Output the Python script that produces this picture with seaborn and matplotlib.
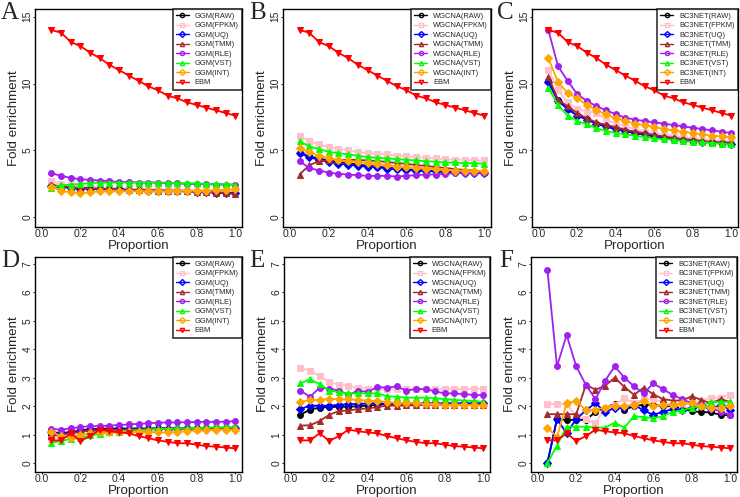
import numpy as np
import pandas as pd
import matplotlib
matplotlib.use("Agg")
import matplotlib.pyplot as plt
from matplotlib.lines import Line2D
import seaborn as sns

proportion = [0.05, 0.10, 0.15, 0.20, 0.25, 0.30, 0.35, 0.40, 0.45, 0.50,
              0.55, 0.60, 0.65, 0.70, 0.75, 0.80, 0.85, 0.90, 0.95, 1.00]
methods = ["RAW", "FPKM", "UQ", "TMM", "RLE", "VST", "INT"]

ebm_top = [14.0, 13.8, 13.1, 12.8, 12.3, 11.9, 11.4, 11.0, 10.6, 10.2, 9.8, 9.5, 9.1, 8.9, 8.6, 8.4, 8.2, 8.0, 7.8, 7.6]
ebm_bottom = [0.8, 0.8, 1.05, 0.78, 0.95, 1.18, 1.12, 1.08, 1.05, 0.95, 0.88, 0.8, 0.75, 0.7, 0.7, 0.65, 0.6, 0.58, 0.55, 0.52]

# Panel A: GGM, top
a_raw = [2.4, 2.3, 2.25, 2.2, 2.2, 2.15, 2.15, 2.1, 2.1, 2.1, 2.05, 2.05, 2.0, 2.0, 2.0, 1.95, 1.9, 1.9, 1.85, 1.8]
a_fpkm = [2.7, 2.5, 2.4, 2.35, 2.3, 2.25, 2.2, 2.2, 2.15, 2.1, 2.1, 2.1, 2.05, 2.05, 2.0, 2.0, 2.0, 1.95, 1.95, 1.9]
a_uq = [2.35, 2.25, 2.2, 2.15, 2.15, 2.1, 2.1, 2.1, 2.05, 2.05, 2.0, 2.0, 2.0, 1.95, 1.95, 1.9, 1.9, 1.85, 1.85, 1.8]
a_tmm = [2.45, 2.3, 2.25, 2.2, 2.15, 2.15, 2.1, 2.1, 2.05, 2.05, 2.05, 2.0, 2.0, 2.0, 1.95, 1.9, 1.9, 1.85, 1.8, 1.75]
a_rle = [3.3, 3.1, 2.95, 2.85, 2.8, 2.75, 2.7, 2.65, 2.65, 2.6, 2.6, 2.6, 2.55, 2.55, 2.5, 2.5, 2.5, 2.45, 2.45, 2.45]
a_vst = [2.2, 2.4, 2.45, 2.5, 2.55, 2.6, 2.6, 2.6, 2.6, 2.6, 2.6, 2.6, 2.6, 2.55, 2.55, 2.55, 2.5, 2.5, 2.5, 2.4]
a_int = [2.3, 1.95, 1.9, 1.8, 1.9, 1.95, 1.95, 1.95, 1.95, 1.95, 1.95, 1.95, 1.95, 2.0, 2.0, 2.0, 2.0, 2.05, 2.05, 2.1]

# Panel B: WGCNA, top
b_raw = [4.8, 4.55, 4.4, 4.25, 4.15, 4.05, 3.95, 3.85, 3.8, 3.7, 3.65, 3.6, 3.55, 3.5, 3.45, 3.4, 3.4, 3.35, 3.35, 3.3]
b_fpkm = [6.1, 5.7, 5.45, 5.25, 5.1, 5.0, 4.9, 4.8, 4.75, 4.7, 4.6, 4.55, 4.5, 4.45, 4.4, 4.35, 4.3, 4.3, 4.25, 4.25]
b_uq = [4.8, 4.5, 4.3, 4.15, 4.0, 3.95, 3.85, 3.8, 3.75, 3.65, 3.6, 3.55, 3.5, 3.45, 3.45, 3.4, 3.4, 3.35, 3.35, 3.3]
b_tmm = [3.2, 3.9, 4.2, 4.25, 4.3, 4.3, 4.3, 4.25, 4.2, 4.15, 4.05, 4.0, 3.9, 3.85, 3.75, 3.7, 3.6, 3.55, 3.5, 3.4]
b_rle = [4.2, 3.7, 3.5, 3.35, 3.25, 3.2, 3.15, 3.1, 3.1, 3.1, 3.05, 3.1, 3.15, 3.2, 3.2, 3.25, 3.3, 3.3, 3.35, 3.35]
b_vst = [5.7, 5.3, 5.1, 4.9, 4.8, 4.7, 4.6, 4.5, 4.45, 4.4, 4.35, 4.3, 4.25, 4.2, 4.15, 4.1, 4.1, 4.05, 4.05, 4.0]
b_int = [5.2, 4.85, 4.6, 4.45, 4.3, 4.2, 4.15, 4.05, 4.0, 3.9, 3.8, 3.75, 3.7, 3.65, 3.6, 3.55, 3.5, 3.5, 3.5, 3.45]

# Panel C: BC3NET, top
c_raw = [10.2, 8.8, 8.1, 7.65, 7.35, 7.0, 6.8, 6.6, 6.45, 6.3, 6.2, 6.1, 6.0, 5.9, 5.8, 5.75, 5.7, 5.6, 5.55, 5.5]
c_fpkm = [11.0, 9.5, 8.6, 8.1, 7.9, 7.8, 7.3, 7.0, 6.8, 6.6, 6.4, 6.3, 6.2, 6.1, 6.0, 5.9, 5.8, 5.8, 5.7, 5.7]
c_uq = [10.1, 8.7, 8.1, 7.6, 7.3, 7.0, 6.8, 6.6, 6.45, 6.3, 6.2, 6.05, 5.95, 5.85, 5.8, 5.7, 5.65, 5.6, 5.55, 5.5]
c_tmm = [10.5, 8.8, 8.3, 7.8, 7.4, 7.1, 6.9, 6.75, 6.55, 6.4, 6.3, 6.15, 6.05, 5.95, 5.85, 5.8, 5.7, 5.65, 5.6, 5.6]
c_rle = [14.0, 11.3, 10.2, 9.2, 8.7, 8.3, 8.0, 7.7, 7.45, 7.3, 7.2, 7.1, 7.0, 6.9, 6.8, 6.7, 6.6, 6.5, 6.4, 6.3]
c_vst = [9.7, 8.4, 7.6, 7.2, 6.95, 6.65, 6.45, 6.3, 6.2, 6.1, 6.0, 5.9, 5.85, 5.8, 5.7, 5.65, 5.6, 5.55, 5.5, 5.45]
c_int = [11.9, 10.1, 9.3, 8.9, 8.4, 8.0, 7.7, 7.4, 7.2, 7.0, 6.9, 6.75, 6.6, 6.5, 6.4, 6.3, 6.2, 6.1, 6.05, 6.0]

# Panel D: GGM, bottom
d_raw = [1.0, 1.05, 1.08, 1.15, 1.2, 1.2, 1.22, 1.22, 1.22, 1.22, 1.22, 1.23, 1.23, 1.23, 1.23, 1.23, 1.23, 1.23, 1.24, 1.24]
d_fpkm = [0.85, 0.9, 0.95, 1.0, 1.05, 1.08, 1.1, 1.12, 1.15, 1.15, 1.18, 1.18, 1.2, 1.2, 1.2, 1.2, 1.22, 1.22, 1.22, 1.22]
d_uq = [1.1, 1.05, 1.1, 1.12, 1.15, 1.18, 1.2, 1.2, 1.2, 1.2, 1.2, 1.2, 1.2, 1.2, 1.22, 1.22, 1.22, 1.22, 1.22, 1.22]
d_tmm = [0.95, 1.0, 1.05, 1.1, 1.15, 1.15, 1.17, 1.17, 1.18, 1.18, 1.2, 1.2, 1.2, 1.22, 1.22, 1.22, 1.22, 1.24, 1.24, 1.25]
d_rle = [1.2, 1.18, 1.22, 1.27, 1.3, 1.3, 1.32, 1.34, 1.36, 1.38, 1.4, 1.42, 1.43, 1.43, 1.44, 1.45, 1.45, 1.45, 1.46, 1.47]
d_vst = [0.72, 0.78, 0.85, 0.88, 0.98, 1.02, 1.08, 1.1, 1.15, 1.15, 1.18, 1.2, 1.2, 1.22, 1.22, 1.24, 1.25, 1.26, 1.26, 1.27]
d_int = [1.1, 0.95, 0.9, 1.0, 1.05, 1.08, 1.08, 1.08, 1.08, 1.1, 1.1, 1.08, 1.08, 1.1, 1.12, 1.15, 1.15, 1.17, 1.18, 1.18]

# Panel E: WGCNA, bottom
e_raw = [1.7, 1.88, 1.95, 1.97, 1.98, 1.98, 2.0, 2.02, 2.05, 2.08, 2.08, 2.08, 2.08, 2.08, 2.08, 2.08, 2.08, 2.08, 2.08, 2.08]
e_fpkm = [3.35, 3.25, 3.05, 2.85, 2.75, 2.7, 2.65, 2.62, 2.6, 2.6, 2.6, 2.6, 2.6, 2.6, 2.6, 2.6, 2.6, 2.6, 2.62, 2.62]
e_uq = [1.9, 2.02, 2.02, 2.02, 2.05, 2.07, 2.08, 2.1, 2.1, 2.1, 2.1, 2.1, 2.1, 2.1, 2.1, 2.1, 2.1, 2.1, 2.1, 2.1]
e_tmm = [1.32, 1.33, 1.48, 1.7, 1.83, 1.85, 1.9, 1.92, 1.97, 2.02, 2.02, 2.03, 2.03, 2.05, 2.05, 2.05, 2.05, 2.05, 2.05, 2.05]
e_rle = [2.55, 2.33, 2.65, 2.62, 2.55, 2.4, 2.55, 2.5, 2.68, 2.65, 2.7, 2.55, 2.6, 2.6, 2.52, 2.45, 2.45, 2.42, 2.4, 2.38]
e_vst = [2.8, 2.95, 2.78, 2.55, 2.5, 2.45, 2.45, 2.45, 2.45, 2.35, 2.33, 2.3, 2.3, 2.3, 2.28, 2.25, 2.22, 2.2, 2.18, 2.15]
e_int = [2.15, 2.22, 2.22, 2.25, 2.25, 2.25, 2.22, 2.2, 2.18, 2.15, 2.12, 2.12, 2.1, 2.08, 2.08, 2.05, 2.05, 2.05, 2.03, 2.03]

# Panel F: BC3NET, bottom
f_raw = [0.0, 1.55, 1.52, 1.52, 1.52, 1.8, 1.95, 2.08, 1.88, 2.0, 2.05, 2.05, 2.0, 2.0, 1.92, 1.82, 1.8, 1.78, 1.7, 1.68]
f_fpkm = [2.08, 2.08, 2.08, 1.65, 1.55, 1.4, 1.95, 2.05, 2.3, 2.1, 2.25, 2.25, 2.15, 2.05, 2.05, 2.1, 2.2, 2.3, 2.3, 2.4]
f_uq = [0.0, 1.55, 1.05, 1.55, 1.85, 2.12, 1.78, 1.95, 1.95, 2.05, 1.85, 1.7, 1.8, 1.9, 1.88, 1.95, 2.0, 1.9, 2.05, 1.88]
f_tmm = [1.72, 1.72, 1.72, 1.72, 2.75, 2.58, 2.72, 3.0, 2.68, 2.4, 2.65, 2.42, 2.25, 2.2, 2.2, 2.35, 2.22, 2.1, 2.25, 2.15]
f_rle = [6.8, 3.4, 4.5, 3.4, 2.75, 2.25, 2.9, 3.4, 3.0, 2.7, 2.45, 2.8, 2.6, 2.4, 2.25, 2.1, 2.05, 1.95, 1.8, 1.7]
f_vst = [0.0, 0.62, 1.28, 1.28, 1.28, 1.25, 1.25, 1.42, 1.25, 1.65, 1.62, 1.58, 1.65, 1.8, 1.85, 1.95, 2.0, 2.15, 2.15, 2.15]
f_int = [1.25, 0.92, 2.1, 2.2, 1.85, 1.88, 1.95, 2.0, 2.0, 2.05, 2.2, 2.0, 2.05, 2.05, 2.1, 2.1, 2.0, 1.95, 1.95, 2.02]

panel_letters = ["A", "B", "C", "D", "E", "F"]
panel_tools = ["GGM", "WGCNA", "BC3NET", "GGM", "WGCNA", "BC3NET"]
panel_series = [
    [a_raw, a_fpkm, a_uq, a_tmm, a_rle, a_vst, a_int, ebm_top],
    [b_raw, b_fpkm, b_uq, b_tmm, b_rle, b_vst, b_int, ebm_top],
    [c_raw, c_fpkm, c_uq, c_tmm, c_rle, c_vst, c_int, ebm_top],
    [d_raw, d_fpkm, d_uq, d_tmm, d_rle, d_vst, d_int, ebm_bottom],
    [e_raw, e_fpkm, e_uq, e_tmm, e_rle, e_vst, e_int, ebm_bottom],
    [f_raw, f_fpkm, f_uq, f_tmm, f_rle, f_vst, f_int, ebm_bottom],
]
top_yticks = [0, 5, 10, 15]
bottom_yticks = [0, 1, 2, 3, 4, 5, 6, 7]
xticks = [0.0, 0.2, 0.4, 0.6, 0.8, 1.0]

colors = ["#000000", "#FFC0CB", "#0000FF", "#A52A2A", "#A020F0", "#00FF00", "#FFA500", "#FF0000"]
markers = ["o", "s", "D", "^", "o", "^", "D", "v"]

sns.set_theme(style="ticks")
plt.rcParams["font.family"] = ["Liberation Sans", "DejaVu Sans"]

fig = plt.figure(figsize=(7.4, 4.97), dpi=100)
W, H = 740, 497
boxes = [
    (35, 9, 242, 227), (283, 9, 491, 227), (532, 9, 738, 227),
    (35, 257, 242, 472), (284, 257, 490, 472), (531, 257, 737, 472),
]
letter_pos = [(1, 2), (249, 2), (497, 2), (1, 250), (249, 250), (499, 250)]

for i in range(6):
    l, t, r, b = boxes[i]
    wpx, hpx = r - l, b - t
    ax = fig.add_axes([l / W, 1 - b / H, wpx / W, hpx / H])
    labels = [f"{panel_tools[i]}({m})" for m in methods] + ["EBM"]
    for j, vals in enumerate(panel_series[i]):
        df = pd.DataFrame({"Proportion": proportion, "Fold": vals})
        sns.lineplot(data=df, x="Proportion", y="Fold", ax=ax, color=colors[j],
                     marker=markers[j], markersize=4.2 if markers[j] != "v" else 5,
                     markeredgecolor=colors[j], linewidth=1.3, legend=False)
    ax.set_xlim(-0.035, 1.035)
    if i < 3:
        ax.set_ylim(-0.72, 15.57)
        ax.set_yticks(top_yticks)
    else:
        ax.set_ylim(-0.31, 7.24)
        ax.set_yticks(bottom_yticks)
    ax.set_xticks(xticks)
    ax.set_xticklabels([f"{v:.1f}" for v in xticks], fontsize=7.4)
    ax.set_yticklabels([str(v) for v in ax.get_yticks().astype(int)], fontsize=7.4,
                       rotation=90, va="center")
    ax.tick_params(axis="both", direction="out", length=1.5, width=0.8, pad=0.2)
    for s in ax.spines.values():
        s.set_visible(True)
        s.set_color("black")
        s.set_linewidth(1.0)
    ax.set_xlabel("Proportion", fontsize=9.6, va="top")
    ax.set_ylabel("Fold enrichment", fontsize=9.6, va="center")
    ax.xaxis.set_label_coords(0.5, -13.0 / hpx)
    ax.yaxis.set_label_coords(-21.0 / wpx, 0.5)
    ax.grid(False)

    handles = [Line2D([0], [0], color=colors[j], marker=markers[j], markersize=3,
                      markerfacecolor="none", markeredgecolor=colors[j], linewidth=1)
               for j in range(8)]
    leg = ax.legend(handles, labels, loc="upper right", fontsize=5.4, frameon=True,
                    fancybox=False, borderaxespad=0.0, handlelength=1.7,
                    handletextpad=0.8, labelspacing=0.3, borderpad=0.45)
    leg.get_frame().set_edgecolor("black")
    leg.get_frame().set_linewidth(1.2)

    lx, ly = letter_pos[i]
    fig.text(lx / W, 1 - ly / H, panel_letters[i], fontsize=18,
             family=["Liberation Serif", "DejaVu Serif"], ha="left", va="top")

fig.savefig("out.png", dpi=100)
